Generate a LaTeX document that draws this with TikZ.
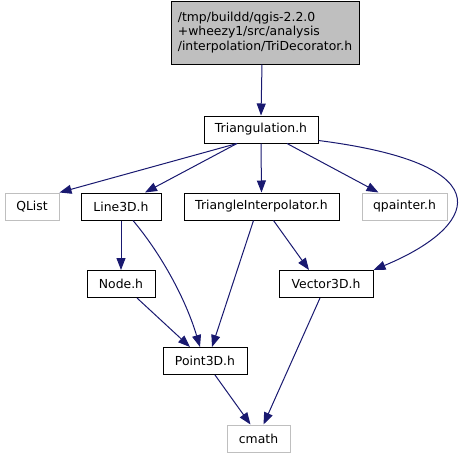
\documentclass[tikz,border=0pt]{standalone}
\usepackage{fontspec}
\setmainfont{DejaVu Sans}
\usepackage{xcolor}
\usepackage{tikz}
\usetikzlibrary{positioning, arrows.meta}

\definecolor{edgeblue}{HTML}{191970}
\definecolor{extgrey}{HTML}{BFBFBF}

\begin{document}
\begin{tikzpicture}[
    x=1pt, y=-1pt,
    hdrbox/.style={rectangle, draw=black, line width=1pt, fill=white, minimum height=27pt, minimum width=#1, inner sep=0pt, font=\fontsize{12.4}{14}\selectfont},
    extbox/.style={rectangle, draw=extgrey, line width=1pt, fill=white, minimum height=27pt, minimum width=#1, inner sep=0pt, font=\fontsize{12.4}{14}\selectfont},
    mainbox/.style={rectangle, draw=black, line width=1pt, fill=extgrey, minimum height=63pt, minimum width=188pt, inner sep=0pt, align=left, font=\fontsize{12.4}{14.2}\selectfont},
    arr/.style={-{Triangle[length=12pt, width=9pt]}, line width=1pt, draw=edgeblue},
]
\useasboundingbox (0,0) rectangle (472,459);

% file being documented
\node[mainbox] (tridec) at (265, 32.5) {/tmp/buildd/qgis-2.2.0\\+wheezy1/src/analysis\\/interpolation/TriDecorator.h};

% included headers
\node[hdrbox=114pt] (tri) at (261, 129.5) {Triangulation.h};
\node[extbox=54pt] (qlist) at (32, 206.5) {QList};
\node[hdrbox=80pt] (line) at (121, 206.5) {Line3D.h};
\node[hdrbox=155pt] (interp) at (261.5, 206.5) {TriangleInterpolator.h};
\node[extbox=85pt] (qpainter) at (404.5, 206.5) {qpainter.h};
\node[hdrbox=68pt] (nodeh) at (121, 284) {Node.h};
\node[hdrbox=94pt] (vec) at (326, 284) {Vector3D.h};
\node[hdrbox=84pt] (point) at (205, 361) {Point3D.h};
\node[extbox=63pt] (cmath) at (258.5, 438.5) {cmath};

\draw[arr] ([xshift=-3pt]tridec.south) -- (tri.north);
\draw[arr] ([xshift=-24pt]tri.south) -- (qlist.north east);
\draw[arr] ([xshift=-24pt]tri.south) -- ([xshift=24pt]line.north);
\draw[arr] (tri.south) -- (interp.north);
\draw[arr] ([xshift=26pt]tri.south) -- ([xshift=-26pt]qpainter.north);
\draw[arr] ([yshift=3pt]tri.south east) .. controls (510,165) and (475,228) .. (vec.north east);
\draw[arr] (line.south) -- (nodeh.north);
\draw[arr] ([xshift=12pt]line.south) .. controls (162,255) and (186,300) .. ([xshift=-5pt]point.north);
\draw[arr] ([xshift=-8pt]interp.south) -- ([xshift=7pt]point.north);
\draw[arr] ([xshift=12pt]interp.south) -- ([xshift=-17pt]vec.north);
\draw[arr] ([xshift=16pt]nodeh.south) -- ([xshift=-15pt]point.north);
\draw[arr] ([xshift=10pt]point.south) -- ([xshift=-8pt]cmath.north);
\draw[arr] ([xshift=-6pt]vec.south) -- ([xshift=5pt]cmath.north);

\end{tikzpicture}
\end{document}
